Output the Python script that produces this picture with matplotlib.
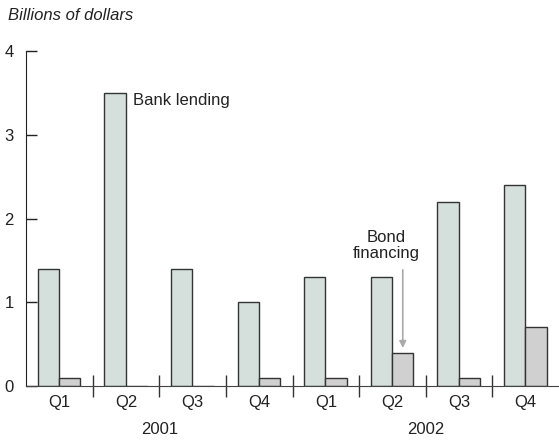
import matplotlib
matplotlib.use("Agg")
import matplotlib.pyplot as plt
import numpy as np

plt.rcParams['font.family'] = ['Liberation Sans', 'DejaVu Sans']

quarters = ['Q1', 'Q2', 'Q3', 'Q4', 'Q1', 'Q2', 'Q3', 'Q4']
years = ['2001', '2002']
bank_lending = [1.4, 3.5, 1.4, 1.0, 1.3, 1.3, 2.2, 2.4]
bond_financing = [0.1, 0.0, 0.0, 0.1, 0.1, 0.4, 0.1, 0.7]

fig = plt.figure(figsize=(5.59, 4.48), dpi=100)
ax = fig.add_axes([26 / 559, 62 / 448, 533 / 559, 335 / 448])

x = np.arange(len(quarters))
w = 0.32
ax.bar(x - 0.165, bank_lending, w, color='#d5e0dc', edgecolor='#333333', linewidth=1)
ax.bar(x + 0.155, bond_financing, w, color='#d0d0d0', edgecolor='#333333', linewidth=1)

ax.set_xlim(-0.5, 7.5)
ax.set_ylim(0, 4)

for s in ['top', 'right']:
    ax.spines[s].set_visible(False)
ax.spines['left'].set_color('#222222')
ax.spines['bottom'].set_color('#444444')

fs = 12
ax.set_yticks([0, 1, 2, 3, 4])
ax.tick_params(axis='y', direction='in', length=8, width=1, labelsize=fs, pad=9, colors='#222222')

# group separators on the x axis
ax.set_xticks(np.arange(0.5, 7.5, 1))
ax.set_xticklabels([])
ax.tick_params(axis='x', direction='inout', length=16, width=1, colors='#333333')

for i, q in enumerate(quarters):
    ax.text(i, -0.2, q, ha='center', va='center', fontsize=fs, color='#222222')
ax.text(1.5, -0.52, years[0], ha='center', va='center', fontsize=fs, color='#222222')
ax.text(5.5, -0.52, years[1], ha='center', va='center', fontsize=fs, color='#222222')

fig.text(8 / 559, 1 - 15 / 448, 'Billions of dollars', fontsize=fs, style='italic',
         ha='left', va='center', color='#222222')

ax.text(1.1, 3.41, 'Bank lending', fontsize=fs, ha='left', va='center', color='#222222')
ax.text(4.9, 1.68, 'Bond\nfinancing', fontsize=fs, ha='center', va='center',
        linespacing=1.1, color='#222222')
ax.annotate('', xy=(5.155, 0.42), xytext=(5.155, 1.42),
            arrowprops=dict(arrowstyle='-|>', color='#aaaaaa', lw=1.2, mutation_scale=10))

fig.savefig('out.png', dpi=100)
